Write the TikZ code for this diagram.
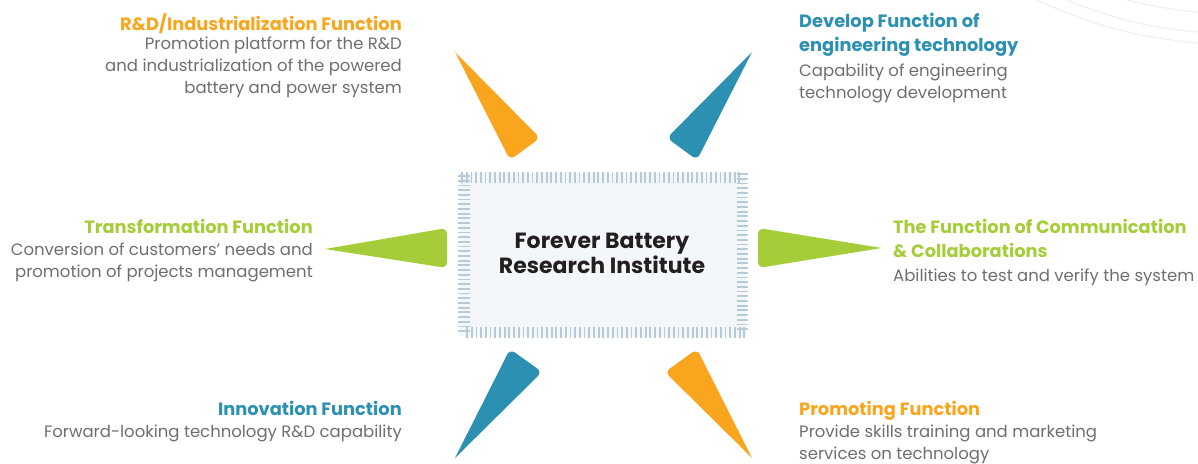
\documentclass[tikz,border=0pt]{standalone}
\usepackage{fontspec}
\setmainfont{Poppins}
\definecolor{fborange}{HTML}{F9A61E}
\definecolor{fbblue}{HTML}{2B90B2}
\definecolor{fbgreen}{HTML}{A5CD39}
\definecolor{fbgray}{HTML}{6D6E70}
\definecolor{fbink}{HTML}{231F20}
\definecolor{fbtick}{HTML}{B6CAD7}
\definecolor{fbpanel}{HTML}{F3F7FA}
\definecolor{fbarc}{HTML}{F0F0F0}
\begin{document}
\begin{tikzpicture}[x=1pt,y=-1pt,
  title/.style={font=\fontsize{17.8}{24}\selectfont\bfseries, inner sep=0},
  body/.style={font=\fontsize{16.5}{22}\selectfont, text=fbgray, inner sep=0},
  tick/.style={draw=fbtick, line width=1.8pt},
  blade/.style={rounded corners=6pt}]
\useasboundingbox (0,0) rectangle (1198,463);

% faint decorative arcs in the upper right corner
\draw[fbarc, line width=1.2pt] (1037,0) .. controls (1090,25) and (1140,38) .. (1198,43);
\draw[fbarc, line width=1.2pt] (1067,0) .. controls (1110,18) and (1150,28) .. (1198,32);
\draw[fbarc, line width=1.2pt] (1127,0) .. controls (1150,6) and (1175,10) .. (1198,12);

% central panel with hatched frame
\fill[fbpanel] (460,173) rectangle (746,336);
\foreach \x in {462,466.7,...,743} \draw[tick] (\x,172) -- (\x,183);
\foreach \x in {467,471.7,...,748} \draw[tick] (\x,327) -- (\x,338);
\foreach \y in {176,180.7,...,333} \draw[tick] (458,\y) -- (470,\y);
\foreach \y in {174,178.7,...,330} \draw[tick] (737,\y) -- (748,\y);
\node[font=\fontsize{22}{25}\selectfont\bfseries, text=fbink, align=center] (core) at (602,253) {Forever Battery\\Research Institute};

% blades around the panel (sharp outer tip, rounded base)
\fill[fborange] (455,52) [blade] -- (540,138) -- (510,160) [sharp corners] -- cycle;
\fill[fbblue]   (752,52) [blade] -- (697,160) -- (667,138) [sharp corners] -- cycle;
\fill[fbgreen]  (325,249) [blade] -- (447,228) -- (447,268) [sharp corners] -- cycle;
\fill[fbgreen]  (882,248) [blade] -- (758,268) -- (758,228) [sharp corners] -- cycle;
\fill[fbblue]   (455,458) [blade] -- (510,349) -- (542,372) [sharp corners] -- cycle;
\fill[fborange] (752,458) [blade] -- (665,372) -- (697,349) [sharp corners] -- cycle;

% function descriptions
\node[title, text=fborange, anchor=north east, align=right] (rdT) at (402,13) {R\&D/Industrialization Function};
\node[body, anchor=north east, align=right] (rdB) at (402,37) {Promotion platform for the R\&D\\and industrialization of the powered\\battery and power system};

\node[title, text=fbblue, anchor=north west, align=left] (devT) at (799,13) {Develop Function of\\engineering technology};
\node[body, anchor=north west, align=left] (devB) at (799,64) {Capability of engineering\\technology development};

\node[title, text=fbgreen, anchor=north east, align=right] (trT) at (313,219) {Transformation Function};
\node[body, anchor=north east, align=right] (trB) at (313,243) {Conversion of customers’ needs and\\promotion of projects management};

\node[title, text=fbgreen, anchor=north west, align=left] (comT) at (893,219) {The Function of Communication\\\& Collaborations};
\node[body, anchor=north west, align=left] (comB) at (893,269) {Abilities to test and verify the system};

\node[title, text=fbblue, anchor=north east, align=right] (innT) at (402,401) {Innovation Function};
\node[body, anchor=north east, align=right] (innB) at (402,425) {Forward-looking technology R\&D capability};

\node[title, text=fborange, anchor=north west, align=left] (proT) at (799,401) {Promoting Function};
\node[body, anchor=north west, align=left] (proB) at (799,425) {Provide skills training and marketing\\services on technology};
\end{tikzpicture}
\end{document}
